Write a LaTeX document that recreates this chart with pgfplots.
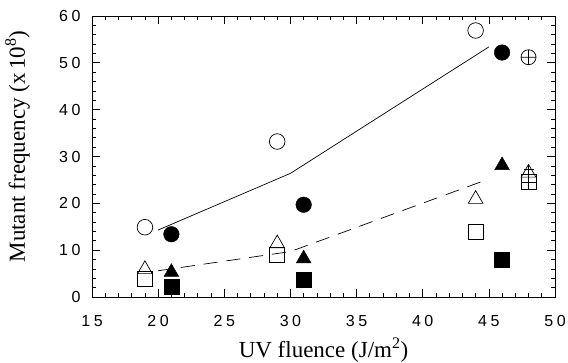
\documentclass[border=0pt]{standalone}
\usepackage{fontspec}
\setmainfont{Liberation Serif}
\newfontfamily\ticksf[LetterSpace=22]{Liberation Sans}
\usepackage{pgfplots}
\pgfplotsset{compat=1.18}
\begin{document}
\begin{tikzpicture}
\path[use as bounding box] (-92pt,-66pt) rectangle (476pt,297pt);
\begin{axis}[
 at={(0pt,0pt)}, anchor=south west,
 width=463pt, height=281pt, scale only axis,
 xmin=15, xmax=50, ymin=0, ymax=60,
 xtick={15,20,...,50}, ytick={0,10,...,60},
 minor x tick num=4, minor y tick num=4,
 tick align=inside, major tick length=8pt, minor tick length=4pt,
 axis line style={line width=0.9pt},
 every tick/.style={line width=0.7pt, black},
 ticklabel style={font=\ticksf\fontsize{16}{16}\selectfont},
 /pgf/number format/assume math mode=true,
 xticklabel style={yshift=-15pt},
 yticklabel style={xshift=-8pt},
 xlabel={UV fluence (J/m\textsuperscript{2})},
 ylabel={Mutant frequency (x\,10\textsuperscript{8})},
 label style={font=\fontsize{23}{23}\selectfont},
 xlabel style={at={(axis description cs:0.5,-0.217)}, anchor=base},
 ylabel style={at={(axis description cs:-0.145,0.536)}, anchor=base},
 clip=false,
]
\addplot[black, line width=0.7pt] coordinates {(20,14.3) (30,26.4) (45,53.4)};
\addplot[black, line width=0.7pt, dash pattern=on 14pt off 9pt] coordinates {(20,5.6) (30,9.7) (45,25.2)};
% open circles
\addplot[only marks, mark=o, mark size=7.8pt, mark options={line width=0.7pt, black}] coordinates {(19,14.9) (29,33.2) (44,56.9)};
% filled circles
\addplot[only marks, mark=*, mark size=7.8pt, mark options={black, fill=black}] coordinates {(21,13.4) (31,19.7) (46,52.2)};
% circle plus
\addplot[only marks, mark=oplus, mark size=7.5pt, mark options={line width=0.7pt, black}] coordinates {(48,51.2)};
% open triangles
\addplot[only marks, mark=triangle, mark size=8.5pt, mark options={line width=0.7pt, black}] coordinates {(19,5.9) (29,11.4) (44,20.9) (48,26.5)};
% filled triangles
\addplot[only marks, mark=triangle*, mark size=8.5pt, mark options={black, fill=black}] coordinates {(21,5.3) (31,8.2) (46,28.1)};
% open squares
\addplot[only marks, mark=square, mark size=7.5pt, mark options={line width=0.7pt, black}] coordinates {(19,3.85) (29,9.0) (44,13.95) (48,24.5)};
% filled squares
\addplot[only marks, mark=square*, mark size=7.5pt, mark options={black, fill=black}] coordinates {(21,2.2) (31,3.6) (46,8.05)};
% plus marks inside the symbols at 48
\addplot[only marks, mark=+, mark size=7.5pt, mark options={line width=0.6pt, black}] coordinates {(48,24.5)};
\addplot[only marks, mark=+, mark size=5pt, mark options={line width=0.6pt, black}] coordinates {(48,27.2)};
\end{axis}
\end{tikzpicture}
\end{document}
